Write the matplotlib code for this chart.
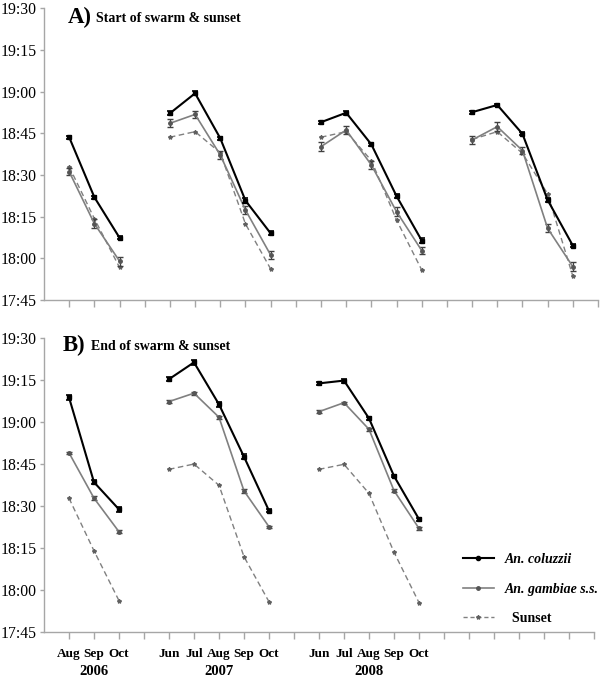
import numpy as np
import matplotlib
matplotlib.use("Agg")
import matplotlib.pyplot as plt
from matplotlib.lines import Line2D

# times are minutes after 18:00 (negative = before 18:00)
MONTHS = [["Aug", "Sep", "Oct"],
          ["Jun", "Jul", "Aug", "Sep", "Oct"],
          ["Jun", "Jul", "Aug", "Sep", "Oct"],
          ["Jun", "Jul", "Aug", "Sep", "Oct"]]
YEARS = ["2006", "2007", "2008"]

# A) start of swarm
start_col = [[43.6, 22.0, 7.4], [52.2, 59.4, 43.2, 20.8, 9.0],
             [49.0, 52.4, 41.0, 22.4, 6.4], [52.6, 55.2, 44.8, 21.0, 4.6]]
start_col_err = [[0.6, 0.6, 0.6], [0.7, 0.7, 0.6, 0.8, 0.7],
                 [0.6, 0.7, 0.6, 0.6, 0.8], [0.5, 0.5, 0.5, 0.7, 0.7]]
start_gam = [[31.2, 12.5, -1.0], [48.6, 51.8, 37.2, 17.4, 1.2],
             [40.2, 46.2, 33.6, 16.8, 2.8], [42.6, 47.4, 38.8, 10.8, -3.0]]
start_gam_err = [[1.2, 1.5, 1.6], [1.5, 1.4, 1.5, 1.5, 1.4],
                 [1.5, 1.5, 1.5, 1.6, 1.3], [1.4, 1.5, 1.2, 1.4, 1.5]]
start_sun = [[33.0, 14.3, -3.3], [43.6, 45.6, 38.0, 12.4, -3.8],
             [43.6, 45.6, 35.2, 13.8, -4.2], [42.8, 45.6, 37.8, 23.2, -6.4]]

# B) end of swarm
end_col = [[68.9, 38.6, 28.9], [75.4, 81.4, 66.4, 47.7, 28.4],
           [73.9, 74.9, 61.4, 40.8, 25.4]]
end_col_err = [[0.8, 0.7, 0.8], [0.6, 1.0, 0.8, 0.9, 0.5],
               [0.6, 0.7, 0.5, 0.5, 0.6]]
end_gam = [[49.1, 32.9, 20.9], [67.4, 70.4, 61.8, 35.5, 22.7],
           [63.8, 67.0, 57.5, 35.6, 22.1]]
end_gam_err = [[0.4, 0.6, 0.5], [0.5, 0.5, 0.5, 0.6, 0.4],
               [0.5, 0.4, 0.5, 0.6, 0.4]]
end_sun = [[32.9, 14.1, -3.7], [43.2, 45.1, 37.5, 12.0, -4.1],
           [43.2, 45.0, 34.6, 13.6, -4.4]]

YTICKS = [-15, 0, 15, 30, 45, 60, 75, 90]
YLABELS = ["17:45", "18:00", "18:15", "18:30", "18:45", "19:00", "19:15", "19:30"]

SERIF = ["Liberation Serif", "DejaVu Serif"]
AXCOL = "#a6a6a6"
GREY = "#808080"


def positions(months):
    """x position of every month, one empty slot between years."""
    out, x = [], 1
    for grp in months:
        out.append(list(range(x, x + len(grp))))
        x += len(grp) + 1
    return out


def style_axis(ax):
    ax.set_xlim(0, 22)
    ax.set_ylim(-15, 90)
    ax.set_yticks(YTICKS)
    ax.set_yticklabels(YLABELS, family=SERIF, fontsize=11.3)
    ax.set_xticks(range(1, 23))
    ax.set_xticklabels([])
    for s in ("top", "right"):
        ax.spines[s].set_visible(False)
    for s in ("left", "bottom"):
        ax.spines[s].set_color(AXCOL)
        ax.spines[s].set_linewidth(1.0)
    ax.tick_params(axis="x", direction="out", length=5, color=AXCOL, width=1)
    ax.tick_params(axis="y", direction="out", length=3, color=AXCOL, width=1, pad=2)


def draw_panel(ax, col, col_err, gam, gam_err, sun):
    xs = positions(MONTHS[:len(col)])
    for x, c, ce, g, ge, s in zip(xs, col, col_err, gam, gam_err, sun):
        ax.plot(x, s, ls=(0, (4, 2.5)), color=GREY, lw=1.0,
                marker="*", ms=3, mec="#606060", mfc="#606060", zorder=2)
        ax.errorbar(x, g, yerr=ge, fmt="none", ecolor="#404040", elinewidth=0.9,
                    capsize=2.5, capthick=1.0, zorder=3)
        ax.plot(x, g, color=GREY, lw=1.2, marker="o", ms=2.5,
                mfc="#555555", mec="#555555", zorder=3)
        ax.errorbar(x, c, yerr=ce, fmt="none", ecolor="black", elinewidth=1.0,
                    capsize=2.5, capthick=1.2, zorder=4)
        ax.plot(x, c, color="black", lw=1.5, marker="s", ms=3,
                mfc="black", mec="black", zorder=4)


fig = plt.figure(figsize=(6.0, 6.77), dpi=100)
ax_a = fig.add_axes([44 / 600, 1 - 300 / 677, 554 / 600, 291.7 / 677])
ax_b = fig.add_axes([44 / 600, 1 - 632.3 / 677, 550 / 600, 294 / 677])

for ax in (ax_a, ax_b):
    style_axis(ax)

draw_panel(ax_a, start_col, start_col_err, start_gam, start_gam_err, start_sun)
draw_panel(ax_b, end_col, end_col_err, end_gam, end_gam_err, end_sun)

# month and year labels under panel B
xs = positions(MONTHS[:3])
for x, grp, yr in zip(xs, MONTHS[:3], YEARS):
    for xi, m in zip(x, grp):
        ax_b.text(xi, -0.075, m, transform=ax_b.get_xaxis_transform(), ha="center",
                  va="center", family=SERIF, fontweight="bold", fontsize=9.5)
    ax_b.text(x[len(x) // 2], -0.132, yr, transform=ax_b.get_xaxis_transform(),
              ha="center", va="center", family=SERIF, fontweight="bold", fontsize=10.5)

# panel titles
fig.text(68 / 600, 1 - 23.5 / 677, "A)", family=SERIF, fontweight="bold",
         fontsize=16.5, ha="left", va="baseline")
fig.text(96 / 600, 1 - 22 / 677, "Start of swarm & sunset", family=SERIF,
         fontweight="bold", fontsize=10, ha="left", va="baseline")
fig.text(63 / 600, 1 - 351 / 677, "B)", family=SERIF, fontweight="bold",
         fontsize=16.5, ha="left", va="baseline")
fig.text(91 / 600, 1 - 350 / 677, "End of swarm & sunset", family=SERIF,
         fontweight="bold", fontsize=10, ha="left", va="baseline")

# legend
leg_c = Line2D([], [], color="black", lw=1.5, marker="o", ms=3)
leg_g = Line2D([], [], color=GREY, lw=1.2, marker="o", ms=2.5, mfc="#555555", mec="#555555")
leg_s = Line2D([], [], color=GREY, lw=1.0, ls=(0, (3, 2)), marker="*", ms=3,
               mfc="#606060", mec="#606060")
leg = fig.legend([leg_c, leg_g, leg_s], ["An. coluzzii", "An. gambiae s.s.", "  Sunset"],
                 loc="center left", bbox_to_anchor=(463 / 600, 1 - 589 / 677),
                 frameon=False, borderpad=0, borderaxespad=0, handlelength=2.2,
                 handletextpad=0.8, labelspacing=1.2,
                 prop={"family": SERIF, "weight": "bold", "size": 10})
for t in leg.get_texts()[:2]:
    t.set_fontstyle("italic")

fig.savefig("out.png", dpi=100)
